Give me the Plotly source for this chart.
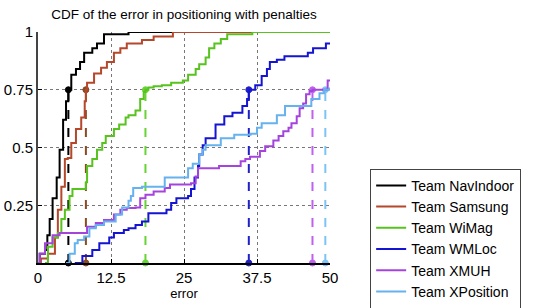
# cdf_penalties.py - CDF of positioning error per team, with 75th percentile markers

import plotly.graph_objects as go

# --- Data (step curves: error, cumulative fraction) ---
teams = ["Team NavIndoor", "Team Samsung", "Team WiMag", "Team WMLoc", "Team XMUH", "Team XPosition"]
colors = ["#000000", "#b5472b", "#58c21f", "#1414d2", "#a444dd", "#66b2ee"]
dash_colors = ["#000000", "#8a4a22", "#66d433", "#2020c8", "#c060f0", "#7cc4f4"]

navindoor_x = [0, 0.3, 1.2, 1.6, 2.0, 2.5, 3.2, 3.7, 4.3, 4.8, 5.2, 5.7, 6.5, 7.2, 7.9, 9.3, 10.1, 11.3, 15.5, 50]
navindoor_y = [0, 0.04, 0.056, 0.12, 0.19, 0.28, 0.37, 0.49, 0.62, 0.70, 0.75, 0.815, 0.84, 0.87, 0.91, 0.93, 0.95, 0.99, 1, 1]

samsung_x = [0, 0.5, 1.7, 2.9, 3.4, 4.0, 4.6, 5.1, 5.7, 6.5, 7.4, 8.0, 8.2, 8.4, 9.6, 10.8, 11.8, 13.0, 14.1, 15.2,
             17.8, 19.8, 23.1, 50]
samsung_y = [0, 0.02, 0.04, 0.11, 0.23, 0.33, 0.45, 0.455, 0.52, 0.58, 0.63, 0.70, 0.75, 0.78, 0.82, 0.845, 0.87, 0.91,
             0.93, 0.95, 0.965, 0.98, 1, 1]

wimag_x = [1.2, 1.7, 2.5, 3.4, 4.0, 4.6, 5.4, 5.9, 8.2, 8.4, 9.3, 10.1, 11.0, 11.6, 13.0, 13.9, 15.0, 15.5, 16.7, 17.5,
           18.1, 18.4, 18.9, 19.8, 21.2, 22.8, 24.8, 25.7, 27.0, 27.6, 28.7, 29.3, 30.2, 31.3, 32.4, 36.7, 50]
wimag_y = [0, 0.07, 0.11, 0.13, 0.19, 0.23, 0.29, 0.32, 0.35, 0.42, 0.45, 0.49, 0.52, 0.55, 0.58, 0.60, 0.63, 0.64,
           0.66, 0.71, 0.74, 0.75, 0.76, 0.765, 0.77, 0.78, 0.79, 0.815, 0.84, 0.86, 0.89, 0.93, 0.95, 0.97, 0.99, 1, 1]

wmloc_x = [6.3, 7.6, 9.3, 10.5, 12.2, 13.0, 14.7, 15.5, 16.7, 17.8, 18.9, 22.0, 22.8, 23.7, 25.7, 26.2, 26.8, 27.4,
           27.6, 28.2, 28.7, 30.4, 31.9, 33.3, 35.0, 35.8, 36.1, 37.2, 38.3, 39.2, 39.7, 40.9, 42.2, 46.2, 47.1, 49.3, 50]
wmloc_y = [0, 0.03, 0.056, 0.085, 0.11, 0.13, 0.143, 0.15, 0.165, 0.18, 0.215, 0.23, 0.26, 0.28, 0.29, 0.32, 0.37,
           0.42, 0.47, 0.51, 0.54, 0.60, 0.635, 0.65, 0.68, 0.71, 0.75, 0.77, 0.81, 0.84, 0.87, 0.88, 0.895, 0.91,
           0.93, 0.95, 0.955]

xmuh_x = [0, 0.3, 1.2, 2.5, 3.7, 8.4, 9.9, 11.3, 13.0, 14.1, 15.2, 16.7, 17.5, 18.4, 19.8, 21.7, 22.6, 26.2, 27.0,
          27.4, 31.0, 34.7, 35.5, 36.3, 38.0, 38.9, 40.3, 41.2, 42.0, 42.9, 43.4, 44.3, 44.8, 45.4, 45.9, 46.5, 47.0,
          49.6, 50]
xmuh_y = [0, 0.04, 0.085, 0.12, 0.13, 0.157, 0.173, 0.186, 0.21, 0.23, 0.238, 0.24, 0.28, 0.295, 0.31, 0.325, 0.34,
          0.345, 0.375, 0.41, 0.42, 0.44, 0.45, 0.46, 0.485, 0.505, 0.53, 0.55, 0.57, 0.585, 0.605, 0.635, 0.67, 0.69,
          0.73, 0.745, 0.75, 0.79, 0.79]

xposition_x = [4.8, 5.4, 6.3, 6.8, 7.9, 8.8, 9.9, 11.3, 13.3, 14.4, 15.5, 15.9, 16.3, 17.8, 21.7, 25.7, 26.5, 27.6,
               28.2, 28.7, 29.9, 31.3, 33.6, 36.4, 37.5, 38.3, 40.9, 42.3, 46.8, 48.2, 49.0, 50]
xposition_y = [0, 0.04, 0.085, 0.1, 0.115, 0.15, 0.165, 0.18, 0.21, 0.24, 0.27, 0.29, 0.325, 0.33, 0.37, 0.41, 0.43,
               0.47, 0.49, 0.51, 0.51, 0.54, 0.555, 0.56, 0.585, 0.605, 0.64, 0.68, 0.71, 0.735, 0.75, 0.76]

curves_x = [navindoor_x, samsung_x, wimag_x, wmloc_x, xmuh_x, xposition_x]
curves_y = [navindoor_y, samsung_y, wimag_y, wmloc_y, xmuh_y, xposition_y]

# 75th percentile of the error for each team
p75 = [5.2, 8.2, 18.4, 36.1, 47.0, 49.2]

x_ticks = [0, 12.5, 25, 37.5, 50]
y_ticks = [0.25, 0.5, 0.75, 1]
y_ticklabels = ["0.25", "0.5", "0.75", "1"]

# --- Figure ---
fig = go.Figure()

# dashed percentile drops first so the curves sit on top
for name, px_, c in zip(teams, p75, dash_colors):
    fig.add_trace(go.Scatter(
        x=[px_, px_], y=[0, 0.75], mode="lines+markers",
        line=dict(color=c, width=2, dash="dash"),
        marker=dict(size=6, color=c, line=dict(width=1, color=c)),
        showlegend=False, hoverinfo="skip", cliponaxis=False,
    ))

for name, xs, ys, c in zip(teams, curves_x, curves_y, colors):
    fig.add_trace(go.Scatter(
        x=xs, y=ys, mode="lines", name=name, line_shape="hv",
        line=dict(color=c, width=2),
    ))

fig.update_layout(
    width=550, height=308,
    margin=dict(l=38, r=220, t=32, b=45, autoexpand=False),
    paper_bgcolor="white", plot_bgcolor="white",
    font=dict(family="Liberation Sans, Arial, sans-serif", color="black"),
    title=dict(text="CDF of the error in positioning with penalties",
               font=dict(size=13.5), xref="paper", x=0.5, xanchor="center",
               y=0.955, yanchor="middle"),
    legend=dict(x=0.673, y=0.452, xref="container", yref="container",
                xanchor="left", yanchor="top",
                bgcolor="white", bordercolor="#444", borderwidth=1,
                font=dict(size=14), tracegroupgap=0, itemwidth=30),
    showlegend=True,
)

fig.update_xaxes(
    range=[0, 50], tickvals=x_ticks, ticktext=["0", "12.5", "25", "37.5", "50"],
    tickfont=dict(size=15), ticks="inside", ticklen=4, tickcolor="black",
    showline=True, linecolor="black", linewidth=2,
    showgrid=True, gridcolor="#777", griddash="dot", gridwidth=1,
    zeroline=False, automargin=False,
    title=dict(text="error", font=dict(size=13), standoff=2),
)
fig.update_yaxes(
    range=[0, 1], tickvals=y_ticks, ticktext=y_ticklabels,
    tickfont=dict(size=15), ticks="inside", ticklen=4, tickcolor="black",
    showline=True, linecolor="#444", linewidth=2,
    showgrid=True, gridcolor="#777", griddash="dot", gridwidth=1,
    zeroline=False, automargin=False,
)

# drop the default page margin so the figure sits at the window's corner
fig.write_html("out.html", config={"displayModeBar": False},
               post_script="document.body.style.margin='0px';")
